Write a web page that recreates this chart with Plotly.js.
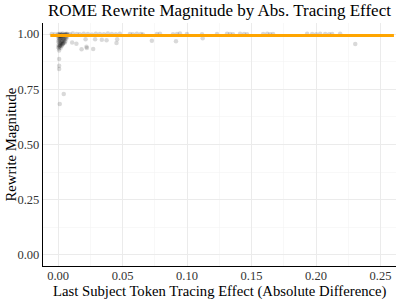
<!DOCTYPE html>
<html><head><meta charset="utf-8">
<script src="https://cdn.plot.ly/plotly-3.0.1.min.js"></script>
<style>html,body{margin:0;padding:0;background:#fff}#chart{width:399px;height:299px}</style>
</head><body><div id="chart"></div>
<script>
// Jittered points: absolute tracing effect vs rewrite magnitude
const effectX = [
  // dense cluster near zero
  0.0000,0.0005,0.0010,0.0015,0.0020,0.0025,0.0030,0.0035,0.0040,0.0045,0.0050,0.0055,0.0060,0.0065,0.0070,0.0075,
  0.0002,0.0008,0.0012,0.0018,0.0022,0.0028,0.0033,0.0038,0.0043,0.0048,0.0053,0.0058,0.0063,0.0068,
  0.0001,0.0006,0.0011,0.0016,0.0021,0.0026,0.0031,0.0036,0.0041,0.0046,0.0051,0.0056,
  0.0003,0.0009,0.0014,0.0019,0.0024,0.0029,0.0034,0.0039,
  0.0004,0.0010,0.0017,0.0023,0.0030,0.0037,
  0.0002,0.0007,0.0013,0.0020,
  // streak straight down at zero
  0.0008,0.0008,0.0008,0.0008,0.0044,0.0013,
  // scattered just under the top row
  0.0109,0.0142,0.0182,0.0223,0.0272,0.0213,0.0287,0.0339,0.0376,0.0453,0.0458,0.0727,0.0914,0.1121,0.2304,0.0220,
  // top row
  -0.0049,-0.0026,0.0068,0.0091,0.0114,0.0145,0.0168,0.0199,0.0231,0.0262,0.0293,0.0324,0.0355,0.0386,0.0417,0.0448,0.0479,
  0.0557,0.0580,0.0611,0.0642,0.0658,0.0766,0.0790,0.0891,0.0922,0.0945,0.0999,0.1116,0.1232,0.1310,0.1333,0.1356,
  0.1411,0.1442,0.1465,0.1590,0.1621,0.1644,0.1667,0.1931,0.1970,0.2001,0.2032,0.2071,0.2102,0.2125,0.2187
];
const magnitudeY = [
  1.000,0.998,0.996,1.001,0.994,0.999,0.997,1.002,0.995,0.998,0.996,1.000,0.997,0.999,0.995,0.998,
  0.985,0.980,0.975,0.982,0.978,0.986,0.972,0.981,0.977,0.984,0.976,0.983,0.979,0.987,
  0.968,0.962,0.970,0.958,0.965,0.960,0.967,0.955,0.963,0.969,0.961,0.966,
  0.950,0.945,0.952,0.948,0.955,0.947,0.953,0.958,
  0.990,0.992,0.989,0.991,0.993,0.990,
  0.940,0.935,0.944,0.938,
  0.925,0.887,0.857,0.842,0.729,0.683,
  0.962,0.956,0.931,0.937,0.932,0.976,0.977,0.974,0.972,0.959,0.977,0.970,0.967,0.981,0.955,0.943,
  1.000,0.999,1.001,0.999,1.002,1.000,0.999,1.001,1.000,0.998,1.001,1.000,0.999,1.002,1.000,0.999,1.001,
  1.000,0.999,1.001,1.000,0.998,1.000,1.001,0.999,1.000,1.002,1.000,0.999,1.000,1.001,1.000,0.999,
  1.001,1.000,0.999,1.000,1.001,0.999,1.000,1.001,1.000,0.999,1.001,1.000,0.999,1.000,1.001
];
// fitted horizontal trend line
const fitX = [-0.006, 0.2604];
const fitY = [0.993, 0.993];

const xTicks = [0, 0.05, 0.10, 0.15, 0.20, 0.25];
const xTickText = ["0.00","0.05","0.10","0.15","0.20","0.25"];
const yTicks = [0, 0.25, 0.5, 0.75, 1.0];
const yTickText = ["0.00","0.25","0.50","0.75","1.00"];

const titleText = "ROME Rewrite Magnitude by Abs. Tracing Effect";
const xTitleText = "Last Subject Token Tracing Effect (Absolute Difference)";
const yTitleText = "Rewrite Magnitude";

const serif = "Liberation Serif";
const traces = [
  {x: effectX, y: magnitudeY, type: "scatter", mode: "markers",
   marker: {color: "rgba(0,0,0,0.15)", size: 4.5, line: {width: 0}}, hoverinfo: "none"},
  {x: fitX, y: fitY, type: "scatter", mode: "lines",
   line: {color: "#FFA500", width: 3}, hoverinfo: "none"}
];
const layout = {
  width: 399, height: 299,
  margin: {l: 43, r: 3, t: 23, b: 33},
  paper_bgcolor: "#fff", plot_bgcolor: "#fff",
  showlegend: false,
  font: {family: serif, color: "#000"},
  title: {text: titleText, font: {family: serif, size: 17, color: "#000"},
          x: 0.55, xanchor: "center", y: 0.985, yanchor: "top"},
  xaxis: {range: [-0.0117, 0.262], tickvals: xTicks, ticktext: xTickText, ticks: "", ticklabelstandoff: -2,
          showline: true, linecolor: "#000", linewidth: 1.2, zeroline: false, mirror: false,
          showgrid: true, gridcolor: "#ebebeb", gridwidth: 1, automargin: false,
          minor: {dtick: 0.025, tick0: 0, showgrid: true, gridcolor: "#f4f4f4", gridwidth: 0.6},
          tickfont: {family: serif, size: 12.5, color: "#333"}},
  yaxis: {range: [-0.05, 1.05], tickvals: yTicks, ticktext: yTickText, ticks: "",
          showline: true, linecolor: "#000", linewidth: 1.2, zeroline: false, automargin: false,
          showgrid: true, gridcolor: "#ebebeb", gridwidth: 1,
          minor: {dtick: 0.125, tick0: 0, showgrid: true, gridcolor: "#f4f4f4", gridwidth: 0.6},
          tickfont: {family: serif, size: 12.5, color: "#333"}},
  annotations: [
    {text: xTitleText, xref: "paper", yref: "paper", x: 0.5, y: -0.105, xanchor: "center", yanchor: "middle",
     showarrow: false, font: {family: serif, size: 14.7, color: "#000"}},
    {text: yTitleText, xref: "paper", yref: "paper", x: -0.0907, y: 0.5, xanchor: "center", yanchor: "middle",
     textangle: -90, showarrow: false, font: {family: serif, size: 14.7, color: "#000"}}
  ]
};
Plotly.newPlot("chart", traces, layout, {staticPlot: true, displayModeBar: false});
</script></body></html>
